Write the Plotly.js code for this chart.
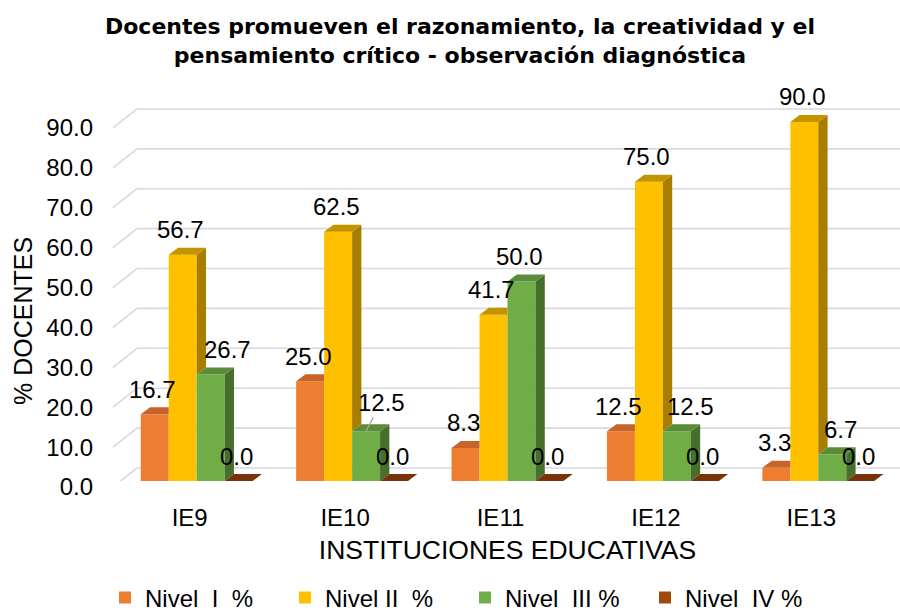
<!DOCTYPE html>
<html>
<head>
<meta charset="utf-8">
<script src="https://cdn.plot.ly/plotly-3.0.1.min.js"></script>
<style>html,body{margin:0;padding:0;background:#fff;}#chart{width:900px;height:612px;}</style>
</head>
<body>
<div id="chart"></div>
<script>
// ---- data ----
const categories = ['IE9', 'IE10', 'IE11', 'IE12', 'IE13'];
const seriesNames = ['Nivel  I  %', 'Nivel II  %', 'Nivel  III %', 'Nivel  IV %'];
const nivelI   = [16.7, 25.0, 8.3, 12.5, 3.3];
const nivelII  = [56.7, 62.5, 41.7, 75.0, 90.0];
const nivelIII = [26.7, 12.5, 50.0, 12.5, 6.7];
const nivelIV  = [0.0, 0.0, 0.0, 0.0, 0.0];
const yTicks = [0, 10, 20, 30, 40, 50, 60, 70, 80, 90];

// ---- styling / geometry ----
const W = 900, H = 612;
const ML = 119, MR = 4, MT = 100, MB = 131;
const PW = W - ML - MR, PH = H - MT - MB;
const Y_MAX = 95.5;
const pxPerX = PW / categories.length;
const pxPerY = PH / Y_MAX;
const BAR_W = 0.18;
const DX = 9.3 / pxPerX;      // depth offset in x units
const DY = 7 / pxPerY;        // depth offset in y units
const FONT = 'Liberation Sans, Arial, sans-serif';
const TITLE_FONT = 'DejaVu Sans, Liberation Sans, Arial, sans-serif';

const seriesValues = [nivelI, nivelII, nivelIII, nivelIV];
const frontColors = ['#ED7D31', '#FFC000', '#70AD47', '#9E480E'];
const topColors   = ['#C8642A', '#C49400', '#5A8C3A', '#7A3308'];
const sideColors  = ['#B0561E', '#A87E00', '#466F2B', '#6A2C06'];
const labelNudge = { '2-0': 19, '2-1': 0, '2-3': 16, '2-4': 10 };

const xIdx = categories.map((c, i) => i);
const traces = [];

// front faces as bars
seriesValues.forEach((vals, s) => {
  traces.push({
    type: 'bar', name: seriesNames[s], x: xIdx, y: vals,
    width: BAR_W, offset: -2 * BAR_W + s * BAR_W,
    marker: { color: frontColors[s], line: { width: 0 } },
    hoverinfo: 'name+y'
  });
});

// top & side faces derived from values
seriesValues.forEach((vals, s) => {
  const tx = [], ty = [], sx = [], sy = [];
  vals.forEach((h, j) => {
    const L = j - 2 * BAR_W + s * BAR_W;
    const R = L + BAR_W;
    const next = s < seriesValues.length - 1 ? seriesValues[s + 1][j] : -Infinity;
    let pts;
    if (next <= h) {
      pts = [[L, h], [R, h], [R + DX, h + DY], [L + DX, h + DY]];
    } else if (next >= h + DY) {
      pts = [[L, h], [R, h], [R, h + DY], [L + DX, h + DY]];
    } else {
      const xr = R + DX * (next - h) / DY;
      pts = [[L, h], [R, h], [R, next], [xr, next], [R + DX, h + DY], [L + DX, h + DY]];
    }
    pts.forEach(p => { tx.push(p[0]); ty.push(p[1]); });
    tx.push(null); ty.push(null);
    const lo = Math.max(next, 0);
    if (h > lo) {
      [[R, lo], [R, h], [R + DX, h + DY], [R + DX, lo + DY]].forEach(p => { sx.push(p[0]); sy.push(p[1]); });
      sx.push(null); sy.push(null);
    }
  });
  if (sx.length) traces.push({ type: 'scatter', mode: 'lines', x: sx, y: sy, fill: 'toself',
    fillcolor: sideColors[s], line: { width: 0, color: sideColors[s] }, hoverinfo: 'skip', showlegend: false });
  traces.push({ type: 'scatter', mode: 'lines', x: tx, y: ty, fill: 'toself',
    fillcolor: topColors[s], line: { width: 0, color: topColors[s] }, hoverinfo: 'skip', showlegend: false });
});

// back wall gridlines and floor diagonals
const pxToPaperX = px => (px - ML) / PW;
const shapes = [];
yTicks.forEach(v => {
  shapes.push({ type: 'line', layer: 'below', xref: 'paper', yref: 'y',
    x0: pxToPaperX(137), x1: pxToPaperX(900), y0: v + 13 / pxPerY, y1: v + 13 / pxPerY,
    line: { color: '#D9D9D9', width: 1.6 } });
  shapes.push({ type: 'line', layer: 'below', xref: 'paper', yref: 'y',
    x0: pxToPaperX(113), x1: pxToPaperX(137), y0: v - 6 / pxPerY, y1: v + 13 / pxPerY,
    line: { color: '#D9D9D9', width: 1.6 } });
});

// data labels
const annotations = [];
seriesValues.forEach((vals, s) => {
  vals.forEach((v, j) => {
    const xc = j - 2 * BAR_W + s * BAR_W + BAR_W / 2;
    const key = s + '-' + j;
    const txt = v.toFixed(1);
    if (key === '2-1') {
      annotations.push({ x: xc, y: v, xref: 'x', yref: 'y', text: txt, showarrow: true,
        arrowhead: 0, arrowwidth: 1.2, arrowcolor: '#A6A6A6', ax: 15, ay: -29, standoff: 0,
        font: { family: FONT, size: 24, color: '#000' } });
    } else {
      annotations.push({ x: xc, y: v, xref: 'x', yref: 'y', text: txt, showarrow: false,
        xanchor: 'center', yanchor: 'middle', yshift: 25, xshift: (labelNudge[key] || 0) - 2,
        font: { family: FONT, size: 24, color: '#000' } });
    }
  });
});
// y axis title
annotations.push({ xref: 'paper', yref: 'paper', x: pxToPaperX(23), y: (H - MB - 321) / PH,
  text: '% DOCENTES', textangle: -90, showarrow: false, xanchor: 'center', yanchor: 'middle',
  font: { family: FONT, size: 25, color: '#000' } });

const layout = {
  width: W, height: H,
  margin: { l: ML, r: MR, t: MT, b: MB, pad: 0 },
  paper_bgcolor: '#fff', plot_bgcolor: 'rgba(0,0,0,0)',
  font: { family: FONT, size: 24, color: '#000' },
  title: {
    text: '<b>Docentes promueven el razonamiento, la creatividad y el<br>pensamiento crítico - observación diagnóstica</b>',
    font: { family: TITLE_FONT, size: 22, color: '#000' },
    xref: 'container', yref: 'container', x: 460 / W, xanchor: 'center', y: 1 - 34 / H, yanchor: 'top'
  },
  xaxis: {
    type: 'linear', range: [-0.5, categories.length - 0.5],
    tickvals: xIdx, ticktext: categories, ticks: '', showgrid: false, zeroline: false, showline: false,
    ticklabelshift: -7, ticklabelstandoff: 20,
    tickfont: { family: FONT, size: 24, color: '#000' },
    title: { text: 'INSTITUCIONES EDUCATIVAS', font: { family: FONT, size: 26.5, color: '#000' }, standoff: 10 },
    fixedrange: true
  },
  yaxis: {
    range: [0, Y_MAX], tickvals: yTicks, ticktext: yTicks.map(v => v.toFixed(1)),
    ticks: '', showgrid: false, zeroline: false, showline: false,
    ticklabelshift: 6, ticklabelstandoff: 25,
    tickfont: { family: FONT, size: 24, color: '#000' }, fixedrange: true
  },
  showlegend: true,
  legend: {
    orientation: 'h', xref: 'container', yref: 'container', x: 105 / W, xanchor: 'left',
    y: 1 - 598 / H, yanchor: 'middle', entrywidth: 135, entrywidthmode: 'pixels',
    font: { family: FONT, size: 24, color: '#000' }, traceorder: 'normal', bgcolor: 'rgba(0,0,0,0)'
  },
  shapes: shapes,
  annotations: annotations,
  hovermode: false
};

Plotly.newPlot('chart', traces, layout, { displayModeBar: false, staticPlot: true });
</script>
</body>
</html>
